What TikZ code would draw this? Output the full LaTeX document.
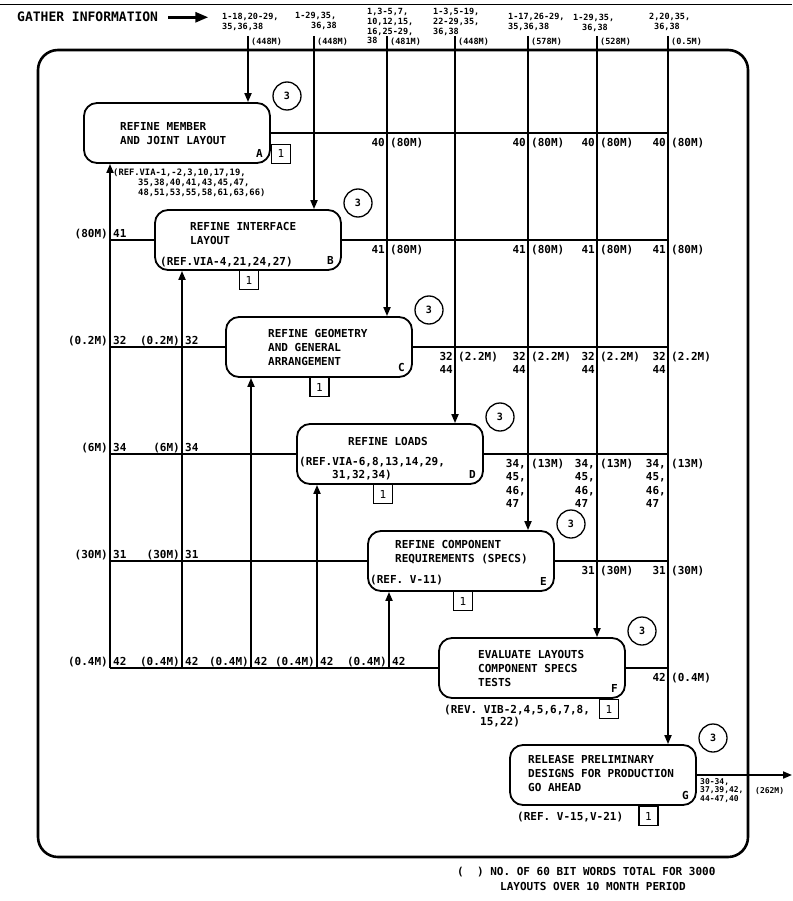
\documentclass[tikz,border=0pt]{standalone}
\usepackage{fontspec}
\setmonofont{DejaVu Sans Mono}
\usetikzlibrary{arrows.meta}

\tikzset{
    procbox/.style={draw, line width=1.8pt, rounded corners=13pt, minimum width=186pt, minimum height=60pt, inner sep=0pt},
    boxtext/.style={font=\ttfamily\bfseries\fontsize{11}{14}\selectfont, align=left, inner sep=0pt},
    boxletter/.style={font=\ttfamily\bfseries\fontsize{11}{14}\selectfont, anchor=base east, inner sep=0pt, xshift=-8pt, yshift=6pt},
    revtag/.style={draw, line width=1.3pt, minimum size=19pt, inner sep=0pt, font=\ttfamily\fontsize{11}{14}\selectfont},
    passtag/.style={draw, circle, line width=1.3pt, minimum size=28pt, inner sep=0pt, font=\ttfamily\bfseries\fontsize{10}{12}\selectfont},
    flow/.style={line width=1.8pt, -{Triangle[length=9pt,width=7pt]}},
    link/.style={line width=1.8pt},
    frame/.style={line width=2.6pt, rounded corners=20pt},
    srclist/.style={font=\ttfamily\bfseries\fontsize{8.5}{9.8}\selectfont, align=left, anchor=north west, inner sep=0pt},
    words/.style={font=\ttfamily\bfseries\fontsize{8.5}{9.8}\selectfont, anchor=base west, inner sep=0pt, xshift=3pt, yshift=-9pt},
    numleft/.style={font=\ttfamily\bfseries\fontsize{11}{13}\selectfont, align=left, anchor=north east, inner sep=0pt, xshift=-2pt, yshift=-5pt},
    numright/.style={font=\ttfamily\bfseries\fontsize{11}{13}\selectfont, anchor=north west, inner sep=0pt, xshift=3pt, yshift=-5pt},
    fbleft/.style={font=\ttfamily\bfseries\fontsize{11}{13}\selectfont, anchor=base east, inner sep=0pt, xshift=-2pt, yshift=3pt},
    fbright/.style={font=\ttfamily\bfseries\fontsize{11}{13}\selectfont, anchor=base west, inner sep=0pt, xshift=3pt, yshift=3pt},
}

\begin{document}
\begin{tikzpicture}[x=1pt,y=-1pt]
    \useasboundingbox (0,0) rectangle (792,901);
    \draw[line width=0.8pt] (0,4) -- (792,4);

    % the seven steps, one below the other
    \foreach \n [count=\i from 0] in {A,B,C,D,E,F,G}{
        \node[procbox] (\n) at ({177+71*\i},{133+107*\i}) {};
        \node[passtag] (p\n) at ({287+71*\i},{96+107*\i}) {3};
        \node[boxletter] (l\n) at (\n.south east) {\n};
    }
    \draw[frame] (38,50) rectangle (748,857);

    % texts in and under the boxes
    \node[boxtext, anchor=north west] (tA) at (120,122) {REFINE MEMBER\\AND JOINT LAYOUT};
    \node[font=\ttfamily\bfseries\fontsize{8.8}{10}\selectfont, align=left, anchor=north west, inner sep=0pt] (rA) at (113,168.5) {(REF.VIA-1,-2,3,10,17,19,\\\hspace*{25pt}35,38,40,41,43,45,47,\\\hspace*{25pt}48,51,53,55,58,61,63,66)};
    \node[boxtext, anchor=north west] (tB) at (190,222) {REFINE INTERFACE\\LAYOUT};
    \node[boxtext, anchor=base west] (rB) at (160,265) {(REF.VIA-4,21,24,27)};
    \node[boxtext, anchor=north west] (tC) at (268,329) {REFINE GEOMETRY\\AND GENERAL\\ARRANGEMENT};
    \node[boxtext, anchor=base west] (tD) at (348,445) {REFINE LOADS};
    \node[boxtext, font=\ttfamily\bfseries\fontsize{11}{13}\selectfont, anchor=north west] (rD) at (299,457) {(REF.VIA-6,8,13,14,29,\\\hspace*{33pt}31,32,34)};
    \node[boxtext, anchor=north west] (tE) at (395,540) {REFINE COMPONENT\\REQUIREMENTS (SPECS)};
    \node[boxtext, anchor=base west] (rE) at (370,583) {(REF. V-11)};
    \node[boxtext, anchor=north west] (tF) at (478,650) {EVALUATE LAYOUTS\\COMPONENT SPECS\\TESTS};
    \node[boxtext, font=\ttfamily\bfseries\fontsize{11}{12.5}\selectfont, anchor=north west] (rF) at (444,704.6) {(REV. VIB-2,4,5,6,7,8,\\\hspace*{36pt}15,22)};
    \node[boxtext, anchor=north west] (tG) at (528,755) {RELEASE PRELIMINARY\\DESIGNS FOR PRODUCTION\\GO AHEAD};
    \node[boxtext, anchor=base west] (rG) at (517,820) {(REF. V-15,V-21)};

    % revision tags
    \node[revtag, anchor=south west] (vA) at (A.south east) {1};
    \node[revtag, anchor=north] (vB) at (249,270) {1};
    \node[revtag, anchor=north] (vC) at (319.5,377) {1};
    \node[revtag, anchor=north] (vD) at (383,484) {1};
    \node[revtag, anchor=north] (vE) at (463,591) {1};
    \node[revtag, anchor=north] (vF) at (609,699) {1};
    \node[revtag, anchor=north] (vG) at (648.5,806) {1};

    % gathered information coming in from the top
    \node[font=\ttfamily\bfseries\fontsize{13}{15}\selectfont, anchor=base west, inner sep=0pt] (gather) at (17,22) {GATHER INFORMATION};
    \coordinate (gatherend) at ([xshift=50pt]gather.east);
    \draw[line width=2.8pt, -{Triangle[length=13pt,width=10pt]}] ([xshift=10pt]gather.east) -- (gatherend);

    \foreach \x/\n/\m in {248/A/448M,314/B/448M,387/C/481M,455/D/448M,528/E/578M,597/F/528M,668/G/0.5M}{
        \coordinate (in\n) at (\x,36);
        \draw[flow] (in\n) -- (in\n |- \n.north);
        \node[words] (m\n) at (in\n) {(\m)};
    }
    \node[srclist] (sA) at (222,13) {1-18,20-29,\\35,36,38};
    \node[srclist] (sB) at (295,12) {1-29,35,\\\hspace*{16pt}36,38};
    \node[srclist] (sC) at (367,8) {1,3-5,7,\\10,12,15,\\16,25-29,\\38};
    \node[srclist] (sD) at (433,8) {1-3,5-19,\\22-29,35,\\36,38};
    \node[srclist] (sE) at (508,13) {1-17,26-29,\\35,36,38};
    \node[srclist] (sF) at (573,14) {1-29,35,\\\hspace*{9pt}36,38};
    \node[srclist] (sG) at (649,13) {2,20,35,\\\hspace*{5pt}36,38};

    % results fed back from below
    \foreach \x/\n in {110/A,182/B,251/C,317/D,389/E}{
        \coordinate (fb\n) at (\x,668);
        \draw[flow] (fb\n) -- (fb\n |- \n.south);
    }
    \foreach \n in {B,C,D,E,F}
        \draw[link] (\n.west) -- (\n.west -| fbA);
    \foreach \n in {A,B,C,D,E,F}
        \draw[link] (\n.east) -- (\n.east -| inG);

    \coordinate (exit) at (792,775);
    \draw[flow] (G.east) -- (exit);
    \node[srclist, font=\ttfamily\bfseries\fontsize{8}{8.6}\selectfont] (oG) at (700,778) {30-34,\\37,39,42,\\44-47,40};
    \node[words, xshift=0pt, yshift=0pt, font=\ttfamily\bfseries\fontsize{8}{9}\selectfont] (mOut) at (752,784) {(262M)};

    % labels on the right
    \foreach \c in {C,E,F,G}{
        \node[numleft] (n40\c) at (in\c |- A.east) {40};
        \node[numright] (w40\c) at (in\c |- A.east) {(80M)};
        \node[numleft] (n41\c) at (in\c |- B.east) {41};
        \node[numright] (w41\c) at (in\c |- B.east) {(80M)};
    }
    \foreach \c in {D,E,F,G}{
        \node[numleft] (n32\c) at (in\c |- C.east) {32\\44};
        \node[numright] (w32\c) at (in\c |- C.east) {(2.2M)};
    }
    \foreach \c in {E,F,G}{
        \node[numleft, font=\ttfamily\bfseries\fontsize{11}{13.5}\selectfont] (n34\c) at (in\c |- D.east) {34,\\45,\\46,\\47};
        \node[numright] (w34\c) at (in\c |- D.east) {(13M)};
    }
    \foreach \c in {F,G}{
        \node[numleft] (n31\c) at (in\c |- E.east) {31};
        \node[numright] (w31\c) at (in\c |- E.east) {(30M)};
    }
    \node[numleft] (n42G) at (inG |- F.east) {42};
    \node[numright] (w42G) at (inG |- F.east) {(0.4M)};

    % labels on the left
    \node[fbleft] (f80A) at (B.west -| fbA) {(80M)};
    \node[fbright] (f41A) at (B.west -| fbA) {41};
    \foreach \f in {A,B}{
        \node[fbleft] (f02\f) at (C.west -| fb\f) {(0.2M)};
        \node[fbright] (f32\f) at (C.west -| fb\f) {32};
        \node[fbleft] (f6\f) at (D.west -| fb\f) {(6M)};
        \node[fbright] (f34\f) at (D.west -| fb\f) {34};
        \node[fbleft] (f30\f) at (E.west -| fb\f) {(30M)};
        \node[fbright] (f31\f) at (E.west -| fb\f) {31};
    }
    \foreach \f in {A,B,C,D,E}{
        \node[fbleft] (f04\f) at (F.west -| fb\f) {(0.4M)};
        \node[fbright] (f42\f) at (F.west -| fb\f) {42};
    }

    \node[font=\ttfamily\bfseries\fontsize{11}{15}\selectfont, align=left, anchor=north west, inner sep=0pt] (note) at (457,867) {(\ \ ) NO. OF 60 BIT WORDS TOTAL FOR 3000\\\hspace*{43pt}LAYOUTS OVER 10 MONTH PERIOD};
\end{tikzpicture}
\end{document}
